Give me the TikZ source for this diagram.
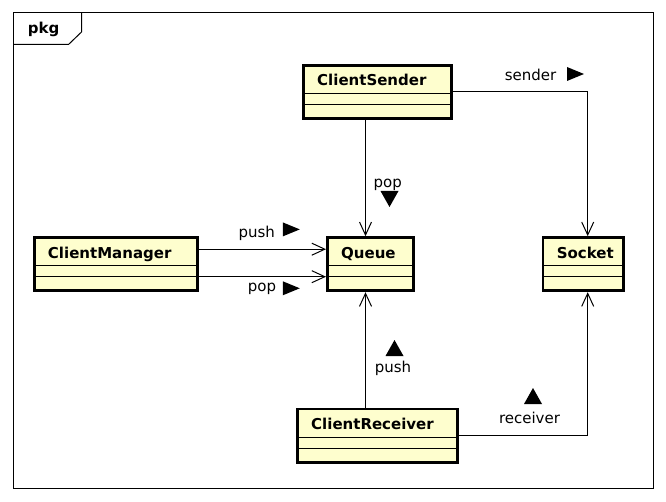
\documentclass[tikz,border=0pt]{standalone}
\usepackage{fontspec}
\setmainfont{DejaVu Sans}
\usepackage{xcolor}
\usetikzlibrary{arrows.meta, calc}

\definecolor{clsfill}{HTML}{FEFECE}

\tikzset{
  cls/.style={draw, line width=2.8pt, fill=clsfill, inner sep=0pt, minimum height=53.2pt},
  clsname/.style={anchor=base west, inner sep=0pt, font=\fontsize{15}{18}\selectfont\bfseries},
  divider/.style={line width=1pt},
  lbl/.style={anchor=base, inner sep=0pt, font=\fontsize{15}{18}\selectfont},
  link/.style={line width=1pt, -{Straight Barb[length=13pt,width=12pt]}},
  tri right/.pic={\fill (-8.5,-7) -- (8.5,0) -- (-8.5,7) -- cycle;},
  tri down/.pic={\fill (-9,-8) -- (9,-8) -- (0,8) -- cycle;},
  tri up/.pic={\fill (-9,8) -- (9,8) -- (0,-8) -- cycle;},
}

\begin{document}
\begin{tikzpicture}[x=1pt, y=-1pt]
    \useasboundingbox (0,0) rectangle (666,502);

    % パッケージ枠
    \draw[line width=1pt] (13,13) rectangle (653.3,488.3);
    \draw[line width=1pt] (13,44.5) -- (68.5,44.5) -- (81.5,32) -- (81.5,13);
    \node[lbl, font=\fontsize{15}{18}\selectfont\bfseries] (pkg) at (43.7,34) {pkg};

    % クラス
    \node[cls, minimum width=148.2pt] (sender) at (377.5,92) {};
    \node[cls, minimum width=163.5pt] (manager) at (115.9,264.2) {};
    \node[cls, minimum width=86.2pt] (queue) at (370.5,264.2) {};
    \node[cls, minimum width=80.5pt] (socket) at (583.3,264.2) {};
    \node[cls, minimum width=160.2pt] (receiver) at (377.5,435.5) {};

    \node[clsname] (senderName) at ($(sender.north west)+(15,22)$) {ClientSender};
    \node[clsname] (managerName) at ($(manager.north west)+(15,22)$) {ClientManager};
    \node[clsname] (queueName) at ($(queue.north west)+(15,22)$) {Queue};
    \node[clsname] (socketName) at ($(socket.north west)+(15,22)$) {Socket};
    \node[clsname] (receiverName) at ($(receiver.north west)+(15,22)$) {ClientReceiver};

    % 区切り線
    \foreach \c in {sender,manager,queue,socket,receiver} {
        \draw[divider] ($(\c.north west)+(1.4,29.5)$) -- ($(\c.north east)+(-1.4,29.5)$);
        \draw[divider] ($(\c.north west)+(1.4,40.5)$) -- ($(\c.north east)+(-1.4,40.5)$);
    }

    % 関連
    \coordinate (qline) at (365.5,0);
    \coordinate (sline) at (587.7,0);
    \draw[link] (sender.south -| qline) -- (queue.north -| qline);
    \draw[link] (sender.east) -| (socket.north -| sline);
    \draw[link] ([yshift=15pt]manager.east) -- ([yshift=15pt]manager.east -| queue.west);
    \draw[link] ([yshift=-12.5pt]manager.east) -- ([yshift=-12.5pt]manager.east -| queue.west);
    \draw[link] (receiver.north -| qline) -- (queue.south -| qline);
    \draw[link] (receiver.east) -| (socket.south -| sline);

    % ラベル
    \node[lbl] (senderLbl) at (530.5,80.5) {sender};
    \pic at (575.5,74) {tri right};
    \node[lbl] (pushLbl) at (256.7,238) {push};
    \pic at (291.3,229.4) {tri right};
    \node[lbl] (popLbl) at (262,292) {pop};
    \pic at (291.3,288.3) {tri right};
    \node[lbl] (popTopLbl) at (387.7,188) {pop};
    \pic at (389.5,199) {tri down};
    \node[lbl] (pushBotLbl) at (393,372.5) {push};
    \pic at (394.5,348) {tri up};
    \node[lbl] (receiverLbl) at (529.5,423.3) {receiver};
    \pic at (533,396) {tri up};
\end{tikzpicture}
\end{document}
